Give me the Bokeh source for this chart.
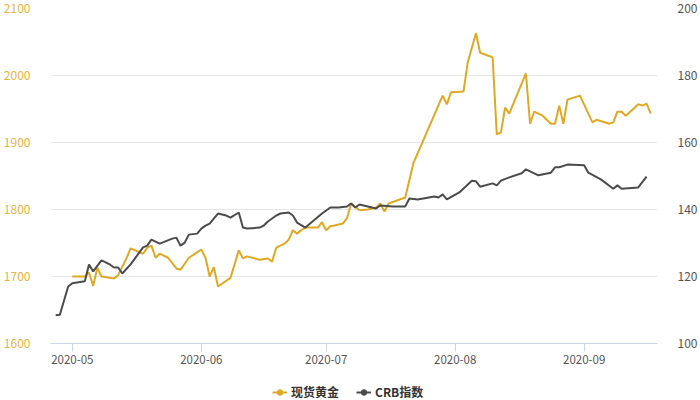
import pandas as pd
from datetime import datetime
from bokeh.plotting import figure
from bokeh.layouts import column
from bokeh.models import (Range1d, LinearAxis, FixedTicker, DatetimeTickFormatter,
                          Legend, LegendItem, ColumnDataSource)
from bokeh.embed import file_html
from bokeh.resources import INLINE

# ---- data ----
gold_dates = ["2020-05-01", "2020-05-04", "2020-05-05", "2020-05-06", "2020-05-07", "2020-05-08",
              "2020-05-11", "2020-05-12", "2020-05-14", "2020-05-15", "2020-05-18", "2020-05-19",
              "2020-05-20", "2020-05-21", "2020-05-22", "2020-05-24", "2020-05-26", "2020-05-27",
              "2020-05-29", "2020-06-01", "2020-06-02", "2020-06-03", "2020-06-04", "2020-06-05",
              "2020-06-08", "2020-06-10", "2020-06-11", "2020-06-12", "2020-06-15", "2020-06-17",
              "2020-06-18", "2020-06-19", "2020-06-21", "2020-06-22", "2020-06-23", "2020-06-24",
              "2020-06-25", "2020-06-26", "2020-06-29", "2020-06-30", "2020-07-01", "2020-07-02",
              "2020-07-03", "2020-07-05", "2020-07-06", "2020-07-07", "2020-07-09", "2020-07-11",
              "2020-07-13", "2020-07-14", "2020-07-15", "2020-07-16", "2020-07-20", "2020-07-22",
              "2020-07-23", "2020-07-29", "2020-07-30", "2020-07-31", "2020-08-03", "2020-08-04",
              "2020-08-06", "2020-08-07", "2020-08-10", "2020-08-11", "2020-08-12", "2020-08-13",
              "2020-08-14", "2020-08-18", "2020-08-19", "2020-08-20", "2020-08-22", "2020-08-24",
              "2020-08-25", "2020-08-26", "2020-08-27", "2020-08-28", "2020-08-31", "2020-09-02",
              "2020-09-03", "2020-09-04", "2020-09-07", "2020-09-08", "2020-09-09", "2020-09-10",
              "2020-09-11", "2020-09-13", "2020-09-14", "2020-09-15", "2020-09-16", "2020-09-17"]
gold_values = [1700, 1700, 1706, 1686, 1713, 1700,
               1697, 1702, 1727, 1742, 1734, 1743,
               1746, 1728, 1734, 1728, 1712, 1710,
               1728, 1740, 1728, 1700, 1714, 1685,
               1698, 1739, 1727, 1730, 1725, 1727,
               1722, 1743, 1749, 1755, 1769, 1764,
               1769, 1773, 1773, 1781, 1769, 1775,
               1776, 1779, 1787, 1809, 1799, 1800,
               1803, 1809, 1797, 1809, 1818, 1870,
               1884, 1970, 1957, 1975, 1976, 2019,
               2063, 2034, 2027, 1912, 1915, 1952,
               1943, 2003, 1928, 1946, 1940, 1928,
               1928, 1955, 1928, 1964, 1970, 1943,
               1930, 1934, 1928, 1930, 1946, 1946,
               1940, 1951, 1957, 1955, 1958, 1943]

crb_dates = ["2020-04-27", "2020-04-28", "2020-04-30", "2020-05-01", "2020-05-04", "2020-05-05",
             "2020-05-06", "2020-05-08", "2020-05-10", "2020-05-11", "2020-05-12", "2020-05-13",
             "2020-05-15", "2020-05-18", "2020-05-19", "2020-05-20", "2020-05-21", "2020-05-22",
             "2020-05-25", "2020-05-26", "2020-05-27", "2020-05-28", "2020-05-29", "2020-05-31",
             "2020-06-01", "2020-06-02", "2020-06-03", "2020-06-05", "2020-06-07", "2020-06-08",
             "2020-06-10", "2020-06-11", "2020-06-12", "2020-06-15", "2020-06-16", "2020-06-17",
             "2020-06-19", "2020-06-20", "2020-06-22", "2020-06-23", "2020-06-24", "2020-06-26",
             "2020-06-28", "2020-06-30", "2020-07-02", "2020-07-04", "2020-07-06", "2020-07-07",
             "2020-07-08", "2020-07-09", "2020-07-11", "2020-07-13", "2020-07-14", "2020-07-17",
             "2020-07-20", "2020-07-21", "2020-07-23", "2020-07-27", "2020-07-28", "2020-07-29",
             "2020-07-30", "2020-08-02", "2020-08-05", "2020-08-06", "2020-08-07", "2020-08-10",
             "2020-08-11", "2020-08-12", "2020-08-14", "2020-08-17", "2020-08-18", "2020-08-21",
             "2020-08-24", "2020-08-25", "2020-08-26", "2020-08-28", "2020-09-01", "2020-09-02",
             "2020-09-05", "2020-09-08", "2020-09-09", "2020-09-10", "2020-09-14", "2020-09-16"]
crb_values = [108.4, 108.6, 117.0, 118.0, 118.6, 123.6,
              121.5, 124.8, 123.6, 122.7, 122.7, 120.9,
              123.6, 128.7, 129.2, 131.0, 130.4, 129.8,
              131.3, 131.6, 129.2, 130.1, 132.5, 132.8,
              134.3, 135.2, 135.8, 138.8, 138.2, 137.6,
              139.1, 134.6, 134.3, 134.6, 135.2, 136.4,
              138.2, 138.8, 139.1, 138.2, 136.1, 134.6,
              136.7, 138.8, 140.6, 140.6, 140.9, 141.8,
              140.6, 141.5, 140.9, 140.3, 141.2, 140.9,
              140.9, 143.3, 143.0, 143.9, 143.6, 144.5,
              143.0, 145.1, 148.6, 148.4, 146.8, 147.8,
              147.2, 148.6, 149.6, 150.8, 152.0, 150.2,
              151.0, 152.6, 152.6, 153.4, 153.2, 151.0,
              149.0, 146.2, 147.2, 146.2, 146.6, 149.8]

left_ticks = [1600, 1700, 1800, 1900, 2000, 2100]
right_ticks = [100, 120, 140, 160, 180, 200]
month_ticks = ["2020-05-01", "2020-06-01", "2020-07-01", "2020-08-01", "2020-09-01"]
gold_name = "现货黄金"
crb_name = "CRB指数"

GOLD = "#E0A823"
GOLD_LABEL = "#E6B33E"
DARK = "#4B4B4B"
FONT = "Noto Sans CJK SC"

gsrc = ColumnDataSource(dict(x=pd.to_datetime(gold_dates), y=gold_values))
csrc = ColumnDataSource(dict(x=pd.to_datetime(crb_dates), y=crb_values))

p = figure(width=700, height=380, x_axis_type="datetime",
           x_range=Range1d(datetime(2020, 4, 25, 18), datetime(2020, 9, 18, 15)),
           y_range=Range1d(1600, 2100),
           output_backend="svg", toolbar_location=None,
           min_border_left=46, min_border_right=42, min_border_top=8, min_border_bottom=37)
p.extra_y_ranges = {"crb": Range1d(100, 200)}
p.outline_line_color = None
p.background_fill_color = "white"

# grid
p.xgrid.grid_line_color = None
p.ygrid.grid_line_color = "#E6E6E6"
p.ygrid.grid_line_width = 1

# left axis
ya = p.yaxis[0]
ya.ticker = FixedTicker(ticks=left_ticks)
ya.axis_line_color = None
ya.major_tick_line_color = None
ya.minor_tick_line_color = None
ya.major_label_text_color = GOLD_LABEL
ya.major_label_text_font = FONT
ya.major_label_text_font_size = "12px"
ya.major_label_standoff = 14

# right axis
ra = LinearAxis(y_range_name="crb", ticker=FixedTicker(ticks=right_ticks))
ra.axis_line_color = None
ra.major_tick_line_color = None
ra.minor_tick_line_color = None
ra.major_label_text_color = "#555555"
ra.major_label_text_font = FONT
ra.major_label_text_font_size = "12px"
ra.major_label_standoff = 14
p.add_layout(ra, "right")

# x axis
xa = p.xaxis[0]
xa.ticker = FixedTicker(ticks=[pd.Timestamp(d).value // 10**6 for d in month_ticks])
fmt = "%Y-%m"
xa.formatter = DatetimeTickFormatter(years=fmt, months=fmt, days=fmt, hours=fmt,
                                     minutes=fmt, seconds=fmt, milliseconds=fmt,
                                     microseconds=fmt, hourmin=fmt, minsec=fmt)
xa.axis_line_color = "#CCD6EB"
xa.major_tick_line_color = "#CCD6EB"
xa.major_tick_out = 8
xa.major_tick_in = 0
xa.minor_tick_line_color = None
xa.major_label_text_color = "#555555"
xa.major_label_text_font = FONT
xa.major_label_text_font_size = "11.5px"
xa.major_label_standoff = 3

# lines
p.line("x", "y", source=gsrc, line_color=GOLD, line_width=2)
p.line("x", "y", source=csrc, line_color=DARK, line_width=2, y_range_name="crb")

# ---- legend strip (own small figure so the legend is not clipped) ----
lg = figure(width=700, height=20, x_range=Range1d(0, 1), y_range=Range1d(0, 1),
            output_backend="svg", toolbar_location=None,
            x_axis_location=None, y_axis_location=None,
            min_border_left=0, min_border_right=0, min_border_top=0, min_border_bottom=0)
lg.outline_line_color = None
lg.xgrid.grid_line_color = None
lg.ygrid.grid_line_color = None
# proxy source lying outside the strip's visible range: only the legend swatches show
proxy = ColumnDataSource(dict(x=[-5, -4], y=[-5, -4]))
lgl = lg.line("x", "y", source=proxy, line_color=GOLD, line_width=2)
lgm = lg.scatter("x", "y", source=proxy, marker="circle", size=8, fill_color=GOLD, line_color=GOLD)
lcl = lg.line("x", "y", source=proxy, line_color=DARK, line_width=2)
lcm = lg.scatter("x", "y", source=proxy, marker="circle", size=5, fill_color=DARK, line_color=DARK)

legend = Legend(items=[LegendItem(label=gold_name, renderers=[lgl, lgm]),
                       LegendItem(label=crb_name, renderers=[lcl, lcm])],
                orientation="horizontal", location=(222, 0),
                border_line_color=None, background_fill_alpha=0,
                margin=0, padding=3, spacing=17, label_standoff=4,
                glyph_width=15, glyph_height=14, label_height=14,
                label_text_font=FONT, label_text_font_size="12px",
                label_text_font_style="bold", label_text_color="#333333")
lg.add_layout(legend, "center")

layout = column(p, lg, spacing=0)
open("out.html", "w").write(file_html(layout, INLINE))
